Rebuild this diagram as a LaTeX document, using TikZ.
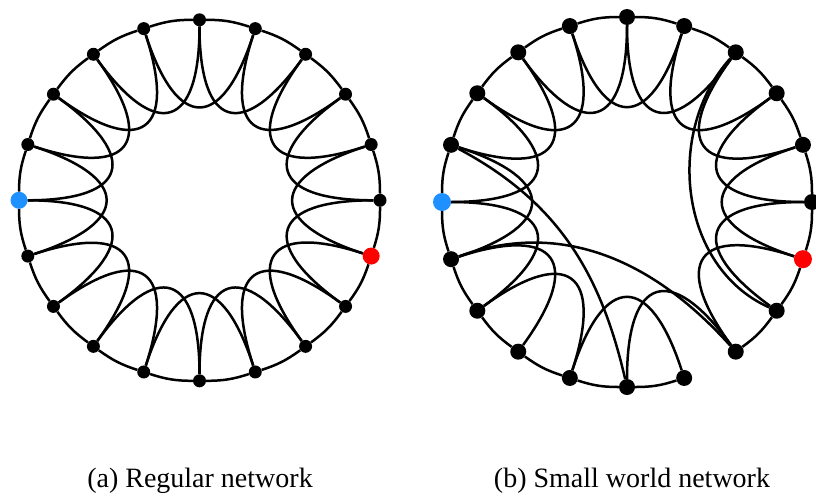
\documentclass[tikz,border=0pt]{standalone}
\usepackage{fontspec}
\setmainfont{Liberation Serif}
\usetikzlibrary{calc,backgrounds}
\definecolor{nodeblue}{RGB}{30,144,255}
\definecolor{nodered}{RGB}{255,0,0}
\begin{document}
\begin{tikzpicture}[x=1pt,y=1pt,
  edge/.style={line width=2.5pt,black},
  dotL/.style={circle,fill=black,inner sep=0pt,minimum size=13pt},
  dotR/.style={circle,fill=black,inner sep=0pt,minimum size=16pt},
  label/.style={font=\fontsize{28}{30}\selectfont,anchor=base}]
\useasboundingbox (0,0) rectangle (816,-501);
% ---------- left: regular network ----------
\coordinate (OL) at (199.5,-200.3);
\foreach \k in {0,...,19}{
  \ifnum\k=5
    \node[dotL,fill=nodeblue,minimum size=17pt] (a\k) at ($(OL)+({90+18*\k}:180.5)$) {};
  \else\ifnum\k=14
    \node[dotL,fill=nodered,minimum size=17pt] (a\k) at ($(OL)+({90+18*\k}:180.5)$) {};
  \else
    \node[dotL] (a\k) at ($(OL)+({90+18*\k}:180.5)$) {};
  \fi\fi
}
% ---------- right: small world network ----------
\coordinate (OR) at (627,-202);
\foreach \k in {0,...,19}{
  \ifnum\k=5
    \node[dotR,fill=nodeblue,minimum size=18pt] (b\k) at ($(OR)+({90+18*\k}:185)$) {};
  \else\ifnum\k=14
    \node[dotR,fill=nodered,minimum size=18pt] (b\k) at ($(OR)+({90+18*\k}:185)$) {};
  \else
    \node[dotR] (b\k) at ($(OR)+({90+18*\k}:185)$) {};
  \fi\fi
}
\begin{scope}[on background layer]
\fill[white] (0,0) rectangle (816,-501);
% left edges
\foreach \i in {0,...,19}{
  \pgfmathtruncatemacro\j{mod(\i+1,20)}
  \pgfmathtruncatemacro\m{mod(\i+2,20)}
  \draw[edge] (a\i) to[bend right=9] (a\j);
  \draw[edge] (a\i) .. controls ($(a\i)!0.6!(OL)$) and ($(a\m)!0.6!(OL)$) .. (a\m);
}
% right edges
\foreach \i in {0,...,19}{
  \pgfmathtruncatemacro\j{mod(\i+1,20)}
  \ifnum\i=11\else
    \draw[edge] (b\i) to[bend right=9] (b\j);
  \fi
}
\foreach \i in {0,1,2,3,4,5,6,7,9,10,12,13,14,15,16,17,18,19}{
  \pgfmathtruncatemacro\m{mod(\i+2,20)}
  \draw[edge] (b\i) .. controls ($(b\i)!0.6!(OR)$) and ($(b\m)!0.6!(OR)$) .. (b\m);
}
\draw[edge] (b4) to[out=-28,in=103] (b10);
\draw[edge] (b6) to[out=20,in=132] (b12);
\draw[edge] (b18) to[out=228,in=156] (b13);
\end{scope}
% ---------- captions ----------
\node[label] (capa) at (200,-487) {(a) Regular network};
\node[label] (capb) at (632,-487) {(b) Small world network};
\end{tikzpicture}
\end{document}
